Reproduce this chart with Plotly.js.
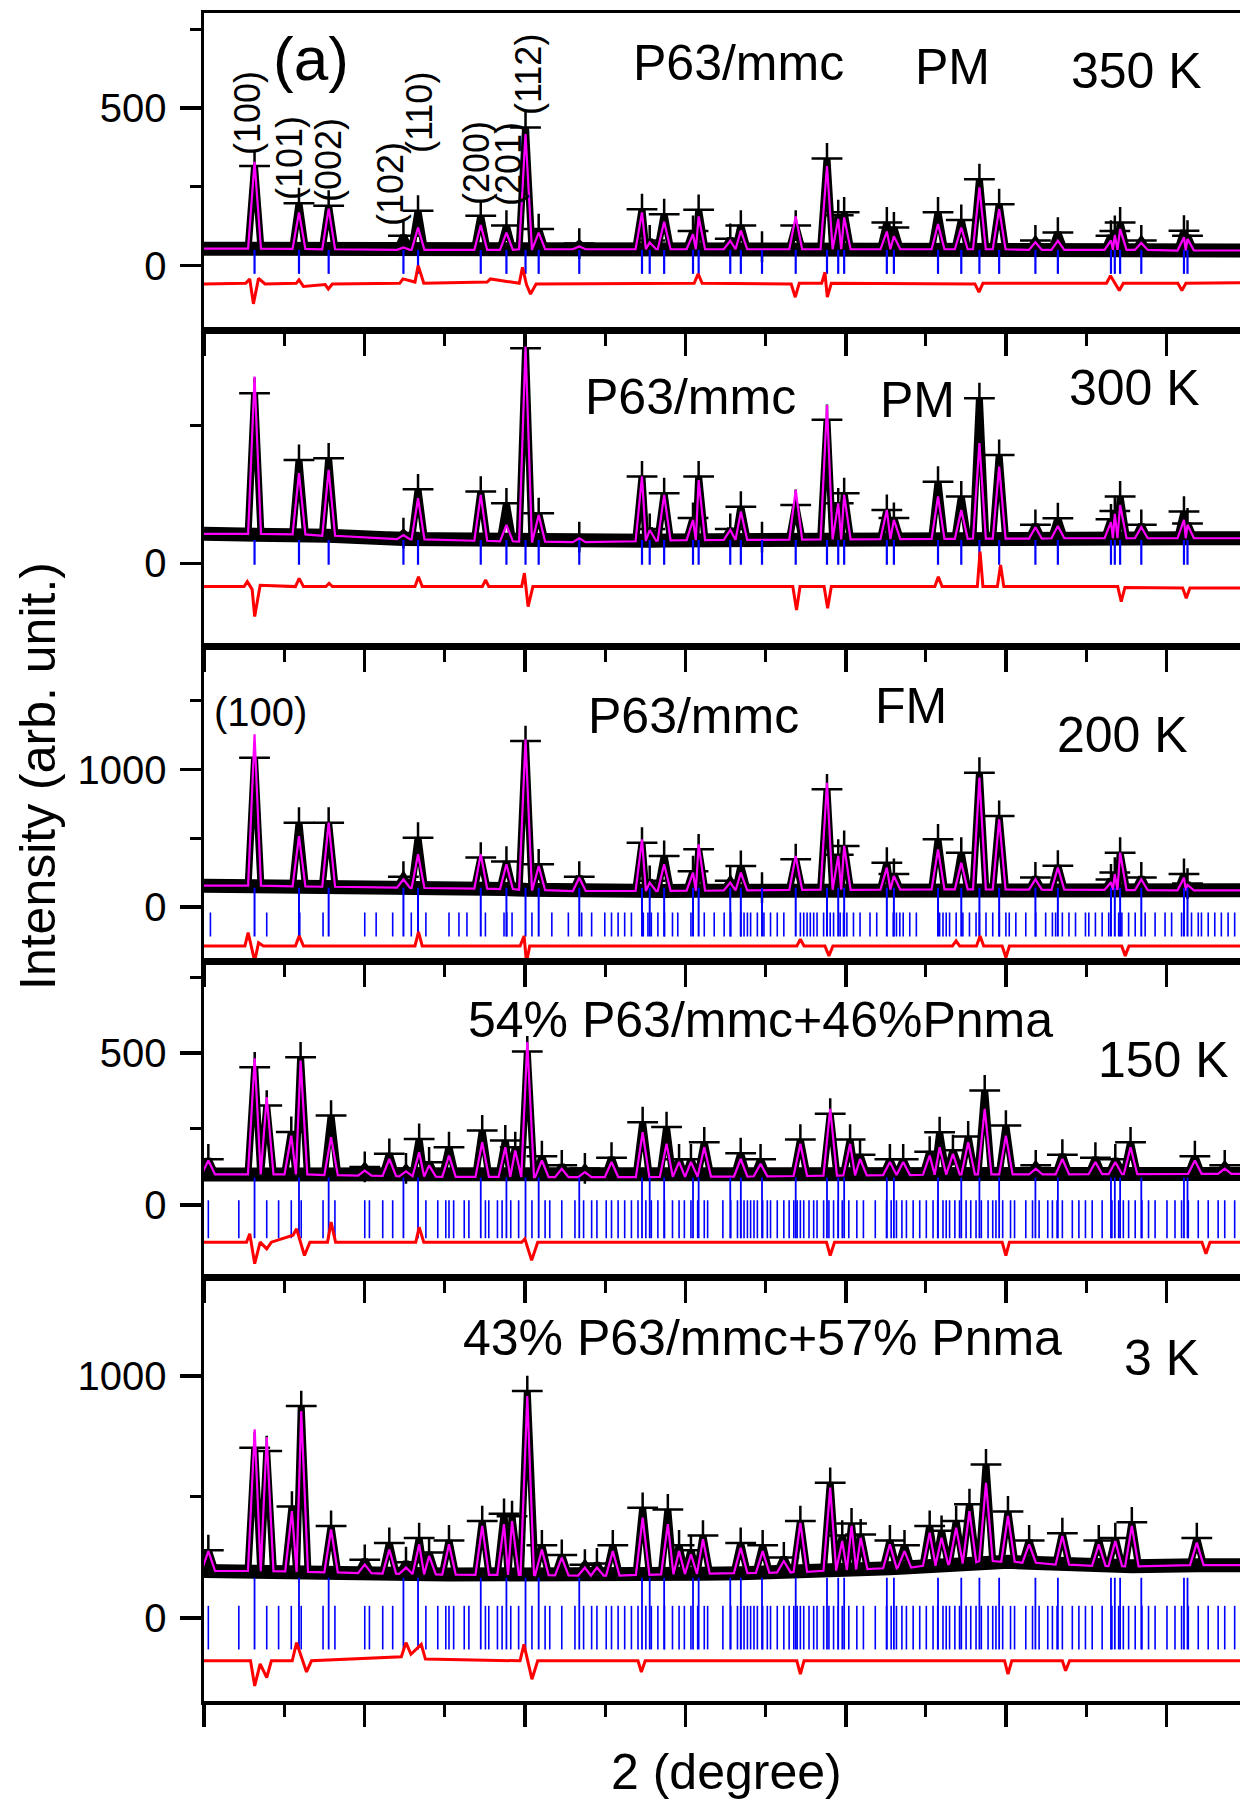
<!DOCTYPE html>
<html><head><meta charset="utf-8">
<script src="https://cdn.plot.ly/plotly-3.0.1.min.js"></script>
<style>html,body{margin:0;padding:0;overflow:hidden;background:#fff;width:1240px;height:1804px}#chart{width:1320px;height:1804px}</style>
</head><body><div id="chart"></div>
<script>
// ---------------- DATA ----------------
// P63/mmc reflection positions (2theta, degree)
const hexPos = [13.15,15.92,17.77,22.43,23.34,27.25,28.85,30.04,30.86,33.39,37.30,37.78,38.68,40.48,40.83,42.80,43.46,44.78,46.88,48.83,49.53,49.90,52.56,53.00,55.75,57.20,58.33,59.56,61.82,63.22,66.53,66.77,67.10,68.42,71.08,71.30];

// 350 K
const calc350 = [329,169,181,58,121,129,105,417,105,61,169,74,139,100,156,79,111,52,156,316,148,153,108,93,132,121,248,179,74,79,80,97,116,72,90,85];
const obs350  = [316,198,190,95,174,158,127,438,116,70,179,80,163,110,177,85,127,60,127,340,160,169,137,121,169,145,274,195,80,105,95,110,137,80,111,95];
const base350 = [54,53,52,50,50,50,50,52,52,52,52,52,52,52,52,52,52,52,52,52,52,52,52,52,52,52,52,52,50,50,50,50,50,50,48,48];
const diff350X = [10,12.6,12.85,13.08,13.4,13.8,15.75,15.92,16.2,17.55,17.75,18.0,22.2,22.4,23.15,23.35,23.7,27.65,27.85,29.65,29.85,30.1,30.35,30.7,40.55,40.8,41.05,46.6,46.85,47.1,48.5,48.7,48.85,49.1,58.05,58.3,58.55,66.25,66.5,66.8,67.05,67.3,70.7,70.95,71.2,78];
const diff350Y = [-58,-56,-42,-121,-40,-58,-56,-45,-66,-60,-74,-58,-56,-42,-52,0,-56,-52,-42,-56,-5,-60,-90,-58,-56,-26,-56,-58,-100,-56,-56,-21,-100,-56,-58,-84,-56,-56,-32,-56,-79,-56,-56,-79,-56,-53];

// 300 K
const calc300 = [680,328,340,103,237,249,140,789,176,91,316,121,249,158,303,121,188,85,267,576,218,249,194,158,243,194,437,352,131,136,150,180,212,131,158,140];
const obs300  = [619,376,382,110,269,261,218,783,182,95,316,125,255,165,316,125,206,95,212,522,218,255,194,165,297,243,601,394,140,164,160,190,243,140,188,145];
const base300 = [107,105,100,88,87,82,80,79,79,77,80,82,83,84,84,85,85,85,86,87,87,87,88,88,89,89,90,90,90,91,91,91,91,91,91,91];
const diff300X = [10,12.5,12.7,13.0,13.16,13.5,15.7,15.93,16.2,17.6,17.8,18.0,23.15,23.37,23.6,27.35,27.55,27.75,29.8,29.97,30.2,30.5,46.7,46.93,47.15,48.65,48.87,49.1,55.55,55.77,56.0,58.2,58.37,58.55,59.45,59.65,59.85,66.95,67.17,67.4,71.0,71.22,71.45,78];
const diff300Y = [-85,-85,-67,-95,-194,-80,-85,-55,-85,-85,-73,-85,-85,-49,-85,-85,-61,-85,-85,-36,-158,-85,-85,-170,-85,-85,-164,-85,-85,-49,-85,-85,42,-85,-85,-6,-85,-85,-140,-88,-90,-127,-90,-91];

// 200 K
const calc200 = [1256,516,613,201,383,383,310,1219,298,213,492,177,310,250,456,177,250,125,371,904,371,444,286,225,419,322,941,638,201,286,180,238,395,201,213,160];
const obs200  = [1086,613,613,220,504,359,330,1207,310,220,468,190,371,260,419,190,298,140,347,856,380,444,322,240,492,395,977,662,215,300,200,250,395,215,240,170];
const base200 = [155,150,147,140,138,133,130,125,122,116,116,116,117,118,118,120,120,122,124,125,125,125,126,126,128,128,128,127,126,125,124,124,123,122,121,121];
const diff200X = [10,12.55,12.75,13.16,13.4,13.7,15.7,15.93,16.2,23.15,23.37,23.6,29.7,29.95,30.1,30.3,46.95,47.17,47.4,48.7,48.95,49.2,56.65,56.88,57.1,58.15,58.37,58.6,59.75,59.98,60.2,67.2,67.42,67.65,78];
const diff200Y = [-284,-284,-187,-395,-260,-284,-284,-211,-284,-284,-182,-284,-284,-211,-405,-284,-284,-235,-284,-284,-356,-284,-284,-247,-284,-284,-211,-284,-284,-368,-284,-284,-356,-284,-284];
const ticks200 = [10.40,13.91,15.97,17.42,20.02,20.73,21.76,22.92,23.83,25.27,25.89,26.39,27.54,28.70,28.87,29.20,30.44,31.68,32.71,33.54,34.16,34.98,35.40,35.81,36.22,36.64,37.38,37.67,37.88,38.29,38.70,39.20,39.53,40.35,41.18,41.80,42.42,42.83,43.45,43.66,43.87,44.07,44.49,44.90,45.31,45.73,46.14,47.17,47.38,47.59,47.79,48.00,48.21,48.62,49.03,49.24,49.65,49.86,50.07,50.48,50.89,51.51,51.93,52.96,53.16,53.37,53.58,53.99,54.40,55.85,56.06,56.26,56.47,56.88,57.30,57.71,58.12,58.33,58.74,59.16,59.57,59.98,60.19,60.60,61.22,61.84,62.46,62.88,63.08,63.50,63.91,64.32,64.94,65.15,65.56,65.98,66.39,67.01,67.21,67.63,68.04,68.66,69.28,69.90,70.31,70.93,71.55,71.97,72.17,72.59,73.00,73.41,73.83,74.24];

// Pnma reflection positions (150 K and 3 K)
const pnmaPos = [10.27,12.17,13.91,14.65,15.44,16.06,17.42,18.16,20.02,20.31,21.14,21.76,23.83,24.57,25.07,25.27,25.56,26.22,26.51,27.54,27.75,28.29,28.58,29.12,29.61,30.44,31.26,31.55,32.30,33.12,33.66,34.16,34.49,35.07,35.40,35.81,36.22,36.64,37.05,37.54,37.88,38.29,38.70,39.20,39.61,39.94,40.35,40.77,41.18,41.39,42.34,42.83,43.25,43.45,43.66,43.87,44.07,44.28,44.49,44.82,45.11,45.31,45.73,46.14,46.47,46.76,46.97,47.17,47.38,47.71,48.00,48.21,48.62,48.95,49.24,49.53,49.78,50.19,50.69,51.10,51.84,52.54,52.83,53.16,53.50,53.78,54.20,54.61,55.02,55.44,55.73,56.06,56.26,56.47,56.80,57.09,57.50,57.79,58.12,58.45,58.87,59.16,59.36,59.78,60.27,60.52,61.22,61.64,62.05,62.59,62.88,63.17,63.50,64.12,64.53,64.94,65.36,65.98,66.59,67.01,67.30,67.63,68.04,68.46,68.87,69.28,70.02,70.52,70.93,71.35,71.97,72.59,73.21,73.62,74.24];

// 150 K
const pos150  = [10.27,13.16,13.91,15.44,16.02,17.92,20.02,21.55,22.59,23.41,24.03,25.27,27.34,28.78,29.40,30.15,31.06,32.30,33.74,35.40,37.34,38.83,39.61,40.35,41.18,43.45,44.69,47.17,49.03,50.27,50.89,52.75,53.58,55.23,55.85,56.68,57.63,58.66,59.98,61.84,63.50,65.56,66.80,67.75,71.76,73.62];
const calc150 = [146,483,355,228,475,223,113,151,110,173,130,162,206,190,179,536,146,119,108,141,239,201,141,141,190,151,135,201,316,201,151,141,141,162,190,168,206,316,228,119,151,141,141,190,146,119];
const obs150  = [150,453,327,240,486,294,125,168,120,217,140,190,245,212,190,505,160,130,120,155,272,256,150,150,206,170,150,215,300,215,165,150,150,175,239,180,225,377,261,130,165,155,150,206,160,130];
const base150 = [100,100,100,100,100,98,96,95,94,94,93,92,92,92,92,91,91,91,91,91,91,92,92,92,93,93,94,95,96,97,97,98,98,99,99,100,100,100,100,100,100,101,101,101,102,102];
const diff150X = [10,12.65,12.85,13.16,13.5,13.91,14.2,15.55,15.77,16.26,16.6,17.7,17.92,18.2,23.2,23.41,23.7,29.8,30.0,30.42,30.8,48.8,49.03,49.3,59.75,59.98,60.2,72.2,72.45,72.7,78];
const diff150Y = [-123,-123,-95,-194,-123,-145,-123,-100,-79,-167,-123,-123,-57,-123,-123,-74,-123,-123,-112,-183,-123,-123,-167,-123,-123,-167,-123,-123,-161,-123,-123];

// 3 K
const pos3  = [10.27,13.16,13.91,15.48,16.06,17.92,20.02,21.55,22.59,23.41,24.03,25.27,27.34,28.70,29.20,30.15,31.06,32.30,33.74,34.49,35.48,37.34,38.91,39.61,40.35,41.10,43.45,44.82,46.14,47.17,49.03,49.78,50.36,50.93,52.75,53.66,55.23,55.97,56.88,57.71,58.74,60.11,61.43,63.50,65.77,66.80,67.83,71.88];
const calc3 = [276,779,747,441,854,366,221,283,208,304,256,304,380,387,400,916,283,249,208,208,276,414,387,276,263,325,290,276,235,393,538,318,380,331,304,276,352,331,373,441,558,421,304,338,304,318,380,311];
const obs3  = [280,703,689,460,875,380,240,310,230,330,270,320,400,430,420,937,300,260,220,225,300,455,448,300,280,340,310,300,250,400,558,340,390,345,320,300,380,360,400,470,634,440,320,350,320,330,395,330];
const base3 = [194,194,193,192,190,188,185,183,182,181,180,179,178,178,178,178,177,176,175,175,175,178,180,181,182,183,185,186,188,190,195,198,200,202,205,208,215,220,225,230,235,232,228,220,215,214,213,218];
const diff3X = [10,12.9,13.16,13.5,13.91,14.2,15.5,15.77,16.39,16.7,22.3,22.59,22.9,23.54,23.8,29.7,29.94,30.44,30.8,37.05,37.26,37.5,46.95,47.17,47.4,59.9,60.11,60.35,63.5,63.7,63.95,78];
const diff3Y = [-177,-177,-281,-190,-246,-177,-177,-102,-223,-177,-160,-102,-150,-109,-170,-177,-109,-253,-177,-177,-223,-177,-177,-232,-177,-177,-232,-177,-177,-218,-177,-177];

// ---------------- CHART ----------------
const FONT = 'Liberation Sans, Arial, sans-serif';
const XR = [10, 78];

const panels = [
  {pos:hexPos, calc:calc350, obs:obs350, base:base350, hw:0.4, dx:diff350X, dy:diff350Y,
   yr:[-204,801], dt:500, dom:[0.8122,1],
   ticks:[{p:hexPos, y0:-26, y1:50, w:2.2}]},
  {pos:hexPos, calc:calc300, obs:obs300, base:base300, hw:0.4, dx:diff300X, dy:diff300Y,
   yr:[-303,849], dt:1000, dom:[0.6247,0.8122],
   ticks:[{p:hexPos, y0:-5, y1:85, w:2.2}]},
  {pos:hexPos, calc:calc200, obs:obs200, base:base200, hw:0.4, dx:diff200X, dy:diff200Y,
   yr:[-398,1895], dt:1000, dom:[0.4380,0.6247],
   ticks:[{p:ticks200, y0:-215, y1:-40, w:1.6},{p:hexPos, y0:-215, y1:140, w:2}]},
  {pos:pos150, calc:calc150, obs:obs150, base:base150, hw:0.42, dx:diff150X, dy:diff150Y,
   yr:[-241,801], dt:500, dom:[0.2506,0.4380],
   ticks:[{p:pnmaPos, y0:-110, y1:15, w:1.6},{p:hexPos, y0:-110, y1:90, w:1.8}]},
  {pos:pos3, calc:calc3, obs:obs3, base:base3, hw:0.42, dx:diff3X, dy:diff3Y,
   yr:[-343,1404], dt:1000, dom:[0,0.2506],
   ticks:[{p:pnmaPos, y0:-130, y1:50, w:1.6},{p:hexPos, y0:-130, y1:166, w:1.8}]}
];

function profile(pos, top, base, hw) {
  const xs = [XR[0]], ys = [base[0]];
  for (let i = 0; i < pos.length; i++) {
    const p = pos[i];
    const left = i > 0 ? Math.max(p - hw, (p + pos[i-1]) / 2) : p - hw;
    const right = i < pos.length - 1 ? Math.min(p + hw, (p + pos[i+1]) / 2) : p + hw;
    xs.push(left, p, right); ys.push(base[i], top[i], base[i]);
  }
  xs.push(XR[1]); ys.push(base[base.length-1]);
  return {xs, ys};
}

const traces = [];
const layout = {
  width: 1320, height: 1804,
  margin: {l:204, r:25, t:13, b:103},
  showlegend: false,
  paper_bgcolor: 'white', plot_bgcolor: 'white',
  font: {family: FONT, color: 'black'},
  annotations: []
};

panels.forEach((P, i) => {
  const k = i + 1;
  const xa = k === 1 ? 'x' : 'x' + k;
  const ya = k === 1 ? 'y' : 'y' + k;
  const obsP = profile(P.pos, P.obs, P.base, P.hw);
  const calcP = profile(P.pos, P.calc, P.base, P.hw);
  // noisy background band of the observed points
  traces.push({type:'scatter', mode:'lines', x:[XR[0]].concat(P.pos, [XR[1]]),
    y:[P.base[0]].concat(P.base, [P.base[P.base.length-1]]), xaxis:xa, yaxis:ya,
    line:{color:'black', width:14}, hoverinfo:'skip'});
  // observed profile
  traces.push({type:'scatter', mode:'lines', x:obsP.xs, y:obsP.ys, xaxis:xa, yaxis:ya,
    line:{color:'black', width:7}, hoverinfo:'skip'});
  traces.push({type:'scatter', mode:'markers', x:P.pos, y:P.obs, xaxis:xa, yaxis:ya,
    marker:{symbol:'cross-thin', size:22, line:{color:'black', width:2.5}}, hoverinfo:'skip'});
  // calculated profile
  traces.push({type:'scatter', mode:'lines', x:calcP.xs, y:calcP.ys, xaxis:xa, yaxis:ya,
    line:{color:'#ff00ff', width:2.2}, hoverinfo:'skip'});
  // Bragg positions
  P.ticks.forEach(T => {
    const xs = [], ys = [];
    T.p.forEach(p => { xs.push(p, p, null); ys.push(T.y0, T.y1, null); });
    traces.push({type:'scatter', mode:'lines', x:xs, y:ys, xaxis:xa, yaxis:ya,
      line:{color:'#0000ff', width:T.w}, hoverinfo:'skip'});
  });
  // difference
  traces.push({type:'scatter', mode:'lines', x:P.dx, y:P.dy, xaxis:xa, yaxis:ya,
    line:{color:'#ff0000', width:3}, hoverinfo:'skip'});

  layout[k === 1 ? 'xaxis' : 'xaxis' + k] = {
    range: XR, domain:[0,1], anchor: ya, showline:true, linewidth:3.5, linecolor:'black',
    mirror:true, ticks:'outside', ticklen:22, tickwidth:3.5, tickcolor:'black',
    tick0:10, dtick:10, showticklabels:false, showgrid:false, zeroline:false,
    minor:{tick0:10, dtick:5, ticks:'outside', ticklen:12, tickwidth:3, tickcolor:'black', showgrid:false}
  };
  layout[k === 1 ? 'yaxis' : 'yaxis' + k] = {
    range: P.yr, domain: P.dom, anchor: xa, showline:true, linewidth:3.5, linecolor:'black',
    mirror:true, ticks:'outside', ticklen:21, tickwidth:3.5, tickcolor:'black',
    tick0:0, dtick:P.dt, showgrid:false, zeroline:false,
    tickfont:{family:FONT, size:40, color:'black'}, ticklabelstandoff:5,
    minor:{tick0:0, dtick:P.dt/2, ticks:'outside', ticklen:11, tickwidth:3, tickcolor:'black', showgrid:false}
  };
});

const PX = x => (x - 204) / 1091;
const PY = y => (1701 - y) / 1688;
function label(text, x, y, size, angle) {
  layout.annotations.push({text, x:PX(x), y:PY(y), xref:'paper', yref:'paper',
    xanchor:'center', yanchor:'middle', showarrow:false, textangle: angle || 0,
    font:{family:FONT, size, color:'black'}});
}
label('(a)', 311, 58, 62);
label('P63/mmc', 738, 63, 50);
label('PM', 952, 67, 50);
label('350 K', 1136, 71, 50);
[['(100)',247,113],['(101)',289,158],['(002)',328,160],['(102)',391,184],['(110)',419,113],
 ['(200)',476,163],['(201)',508,164],['(112)',528,75]].forEach(m => label(m[0], m[1], m[2], 36, -90));
label('P63/mmc', 690, 397, 50);
label('PM', 917, 400, 50);
label('300 K', 1134, 388, 50);
label('(100)', 260, 712, 40);
label('P63/mmc', 693, 716, 50);
label('FM', 911, 706, 50);
label('200 K', 1122, 735, 50);
label('54% P63/mmc+46%Pnma', 760, 1020, 50);
label('150 K', 1163, 1060, 50);
label('43% P63/mmc+57% Pnma', 762, 1338, 50);
label('3 K', 1161, 1358, 50);
label('Intensity (arb. unit.)', 38, 776, 50, -90);
label('2 (degree)', 726, 1772, 50);

Plotly.newPlot('chart', traces, layout, {staticPlot:true, responsive:false});
</script>
</body></html>
